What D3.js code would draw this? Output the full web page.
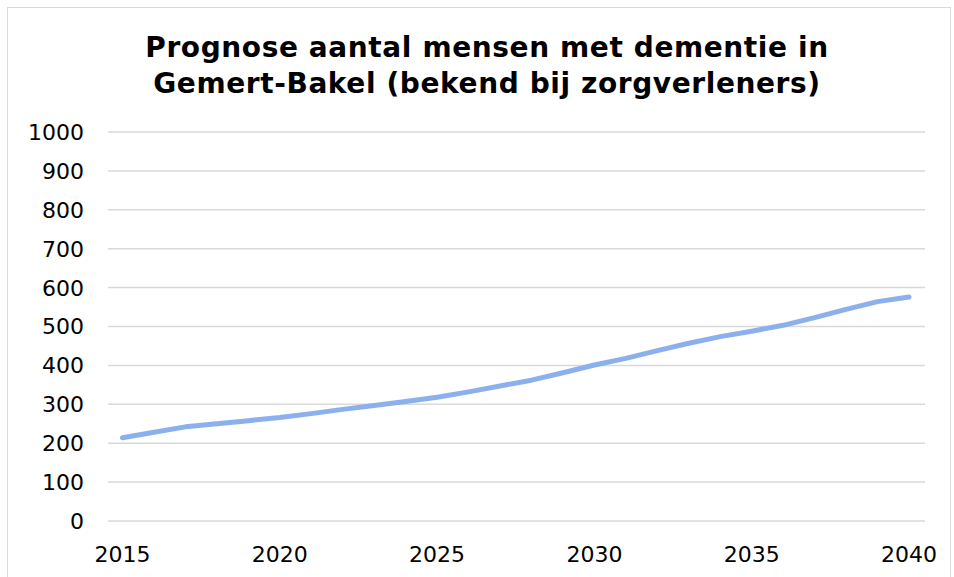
<!DOCTYPE html>
<html>
<head>
<meta charset="utf-8">
<script src="https://cdn.jsdelivr.net/npm/d3@7"></script>
<style>
  html, body { margin: 0; padding: 0; background: #fff; }
  svg { display: block; }
</style>
</head>
<body>
<div id="chart"></div>
<script>
// Prognose dementie Gemert-Bakel: line chart

const years = d3.range(2015, 2041);
const values = [214, 228, 242, 250, 258, 266, 276, 287, 297, 307, 318, 332, 347, 362, 381, 401,
  418, 438, 457, 474, 488, 503, 523, 544, 564, 576];
const yTicks = [0, 100, 200, 300, 400, 500, 600, 700, 800, 900, 1000];
const xTicks = [2015, 2020, 2025, 2030, 2035, 2040];
const titleLines = ['Prognose aantal mensen met dementie in', 'Gemert-Bakel (bekend bij zorgverleners)'];

const width = 954, height = 577;
const font = 'Verdana, "DejaVu Sans", sans-serif';

const svg = d3.select('#chart').append('svg')
  .attr('width', width)
  .attr('height', height);

// outer border
svg.append('rect')
  .attr('x', 7.5).attr('y', 7.5)
  .attr('width', 943).attr('height', 580)
  .attr('fill', 'none')
  .attr('stroke', '#d9d9d9')
  .attr('stroke-width', 1);

const x = d3.scaleLinear().domain([2015, 2040]).range([122.5, 909]);
const y = d3.scaleLinear().domain([0, 1000]).range([521, 132]);

// gridlines
svg.append('g')
  .selectAll('line')
  .data(yTicks)
  .join('line')
  .attr('x1', 108).attr('x2', 925)
  .attr('y1', d => y(d)).attr('y2', d => y(d))
  .attr('stroke', '#d9d9d9')
  .attr('stroke-width', 1.5);

// y labels
svg.append('g')
  .selectAll('text')
  .data(yTicks)
  .join('text')
  .attr('x', 84)
  .attr('y', d => y(d))
  .attr('dy', '0.36em')
  .attr('text-anchor', 'end')
  .attr('font-family', font)
  .attr('font-size', '22px')
  .attr('fill', '#000')
  .text(d => d);

// x labels
svg.append('g')
  .selectAll('text')
  .data(xTicks)
  .join('text')
  .attr('x', d => x(d))
  .attr('y', 562)
  .attr('text-anchor', 'middle')
  .attr('font-family', font)
  .attr('font-size', '22px')
  .attr('fill', '#000')
  .text(d => d);

// line
const line = d3.line()
  .x((d, i) => x(years[i]))
  .y(d => y(d));

svg.append('path')
  .datum(values)
  .attr('d', line)
  .attr('fill', 'none')
  .attr('stroke', '#8cb0ee')
  .attr('stroke-width', 5)
  .attr('stroke-linecap', 'round')
  .attr('stroke-linejoin', 'round');

// title
svg.append('g')
  .selectAll('text')
  .data(titleLines)
  .join('text')
  .attr('x', 487)
  .attr('y', (d, i) => 57 + i * 36)
  .attr('text-anchor', 'middle')
  .attr('font-family', font)
  .attr('font-weight', 'bold')
  .attr('font-size', '28px')
  .attr('letter-spacing', '0.6px')
  .attr('fill', '#000')
  .text(d => d);
</script>
</body>
</html>
